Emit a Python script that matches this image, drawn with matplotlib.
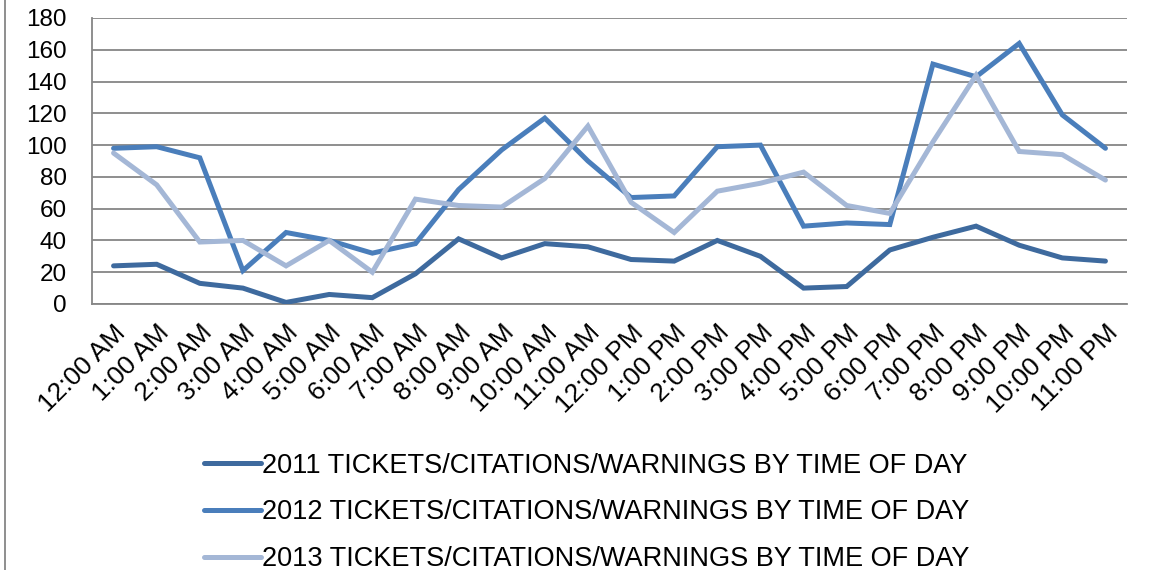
import matplotlib
matplotlib.use("Agg")
import matplotlib.pyplot as plt

plt.rcParams['font.family'] = ['Liberation Sans', 'DejaVu Sans']

hours = ["12:00 AM", "1:00 AM", "2:00 AM", "3:00 AM", "4:00 AM", "5:00 AM",
         "6:00 AM", "7:00 AM", "8:00 AM", "9:00 AM", "10:00 AM", "11:00 AM",
         "12:00 PM", "1:00 PM", "2:00 PM", "3:00 PM", "4:00 PM", "5:00 PM",
         "6:00 PM", "7:00 PM", "8:00 PM", "9:00 PM", "10:00 PM", "11:00 PM"]

y2011 = [24, 25, 13, 10, 1, 6, 4, 19, 41, 29, 38, 36,
         28, 27, 40, 30, 10, 11, 34, 42, 49, 37, 29, 27]
y2012 = [98, 99, 92, 21, 45, 40, 32, 38, 72, 97, 117, 90,
         67, 68, 99, 100, 49, 51, 50, 151, 143, 164, 119, 98]
y2013 = [95, 75, 39, 40, 24, 40, 20, 66, 62, 61, 79, 112,
         64, 45, 71, 76, 83, 62, 57, 102, 144, 96, 94, 78]

labels = ["2011 TICKETS/CITATIONS/WARNINGS BY TIME OF DAY",
          "2012 TICKETS/CITATIONS/WARNINGS BY TIME OF DAY",
          "2013 TICKETS/CITATIONS/WARNINGS BY TIME OF DAY"]
colors = ["#3E6A9E", "#4A7EBB", "#A4B7D6"]

W, H = 1152, 570
fig = plt.figure(figsize=(W / 100, H / 100), dpi=100)
ax = fig.add_axes([92 / W, 1 - 304 / H, (1127 - 92) / W, (304 - 18) / H])

x = list(range(len(hours)))
handles = []
for series, c, lab in zip([y2011, y2012, y2013], colors, labels):
    ln, = ax.plot(x, series, color=c, lw=3.6, solid_capstyle='round',
                  solid_joinstyle='miter', label=lab, zorder=3)
    handles.append(ln)

ax.set_xlim(-0.5, len(hours) - 0.5)
ax.set_ylim(0, 180)
ax.set_yticks(range(0, 181, 20))
ax.yaxis.grid(True, color="#868686", lw=1.3)
ax.set_axisbelow(True)
for s in ["top", "right"]:
    ax.spines[s].set_visible(False)
for s in ["left", "bottom"]:
    ax.spines[s].set_color("#868686")
    ax.spines[s].set_linewidth(1.3)
ax.tick_params(axis='both', length=0, colors="black")
ax.tick_params(axis='y', labelsize=17.5, pad=18)
ax.set_xticks(x)
ax.set_xticklabels(hours, rotation=45, ha='right', rotation_mode='anchor')
ax.tick_params(axis='x', labelsize=19, pad=12)

# legend placed below the chart, stacked vertically
leg = fig.legend(handles=handles, labels=labels, loc='upper left',
                 bbox_to_anchor=(193 / W, 1 - 442 / H), frameon=False,
                 fontsize=19.5, handlelength=2.1, handletextpad=0.06,
                 labelspacing=0.76, borderaxespad=0)
for h in leg.legend_handles:
    h.set_solid_capstyle('round')

# outer chart border on the left edge
fig.add_artist(plt.Line2D([5 / W, 5 / W], [0, 1], color="#868686", lw=1.3,
                          transform=fig.transFigure))

fig.savefig("out.png", dpi=100)
